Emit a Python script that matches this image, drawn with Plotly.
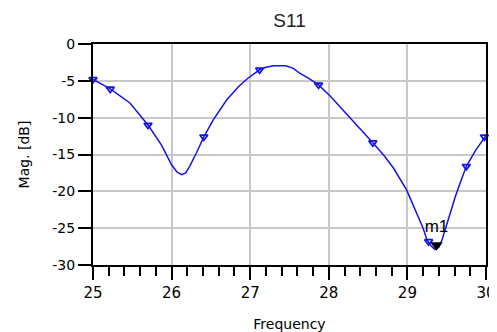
import plotly.graph_objects as go

# S11 trace (frequency in GHz, magnitude in dB)
freq = [25.00, 25.22, 25.47, 25.70, 25.87, 26.00, 26.07, 26.13, 26.18, 26.23,
        26.32, 26.41, 26.53, 26.70, 26.85, 26.97, 27.12, 27.20, 27.30, 27.45,
        27.55, 27.63, 27.75, 27.87, 28.02, 28.15, 28.27, 28.42, 28.56, 28.70,
        28.82, 28.99, 29.12, 29.20, 29.25, 29.30, 29.35, 29.40, 29.44, 29.48,
        29.55, 29.61, 29.68, 29.75, 29.87, 29.98, 30.00]
mag = [-4.8, -6.1, -8.0, -11.0, -13.7, -16.4, -17.4, -17.75, -17.5, -16.6,
       -14.7, -12.6, -10.3, -7.6, -5.8, -4.65, -3.5, -3.15, -2.95, -2.95,
       -3.3, -3.97, -4.7, -5.55, -7.1, -8.6, -10.1, -11.7, -13.4, -15.1,
       -16.8, -19.8, -22.9, -25.0, -26.6, -27.4, -27.9, -27.6, -26.6, -25.2,
       -22.8, -20.7, -18.6, -16.6, -14.4, -12.6, -12.4]

# sample markers along the trace
mk_freq = [25.00, 25.22, 25.70, 26.41, 27.12, 27.87, 28.56, 29.27, 29.75, 29.98]
mk_mag = [-4.8, -6.1, -11.0, -12.6, -3.5, -5.55, -13.4, -26.8, -16.6, -12.6]

# marker m1
m1_freq = [29.37]
m1_mag = [-27.3]
m1_label = ["m1"]
m1_label_mag = [-24.9]

x_ticks = [25, 26, 27, 28, 29, 30]
y_ticks = [0, -5, -10, -15, -20, -25, -30]

blue = "#1414e6"

fig = go.Figure()
fig.add_trace(go.Scatter(x=freq, y=mag, mode="lines",
                         line=dict(color=blue, width=1.5), showlegend=False))
fig.add_trace(go.Scatter(x=mk_freq, y=mk_mag, mode="markers",
                         marker=dict(symbol="triangle-down-open", size=7,
                                     color=blue, line=dict(color=blue, width=1.8)),
                         showlegend=False, cliponaxis=False))
fig.add_trace(go.Scatter(x=m1_freq, y=m1_mag, mode="markers",
                         marker=dict(symbol="triangle-down", size=11, color="black"),
                         showlegend=False))
fig.add_trace(go.Scatter(x=m1_freq, y=m1_label_mag, mode="text", text=m1_label,
                         textfont=dict(family="Liberation Sans", size=17, color="black"),
                         showlegend=False))

# the page body adds an 8px offset, so the figure is 8px smaller than the window
fig.update_layout(
    width=489, height=324,
    margin=dict(l=85, r=11, t=36, b=67, autoexpand=False),
    paper_bgcolor="white", plot_bgcolor="white",
    title=dict(text="S11", x=0.5757, xanchor="center", y=0.963, yanchor="middle",
               font=dict(family="Liberation Sans", size=19, color="#222"),
               automargin=False),
)
fig.update_xaxes(
    range=[25, 30], tickvals=x_ticks, ticktext=[str(v) for v in x_ticks],
    showgrid=True, gridcolor="#c8c8c8", gridwidth=2,
    showline=True, linecolor="black", linewidth=2, mirror=True,
    ticks="outside", ticklen=13, tickwidth=1.5, tickcolor="black",
    minor=dict(dtick=0.2, ticks="outside", ticklen=9, tickwidth=1.5,
               tickcolor="black", showgrid=False),
    tickfont=dict(family="DejaVu Sans", size=15, color="black"),
    title=dict(text="Frequency", font=dict(family="DejaVu Sans", size=14, color="black"),
               standoff=21),
    zeroline=False, automargin=False,
)
fig.update_yaxes(
    range=[-30, 0], tickvals=y_ticks, ticktext=[str(v) for v in y_ticks],
    showgrid=True, gridcolor="#c8c8c8", gridwidth=2,
    showline=True, linecolor="black", linewidth=2, mirror=True,
    ticks="outside", ticklen=13, tickwidth=1.5, tickcolor="black",
    tickfont=dict(family="DejaVu Sans", size=14, color="black"),
    title=dict(text="Mag. [dB]", font=dict(family="DejaVu Sans", size=14, color="black"),
               standoff=19),
    zeroline=False, automargin=False,
)

fig.write_html("out.html")
